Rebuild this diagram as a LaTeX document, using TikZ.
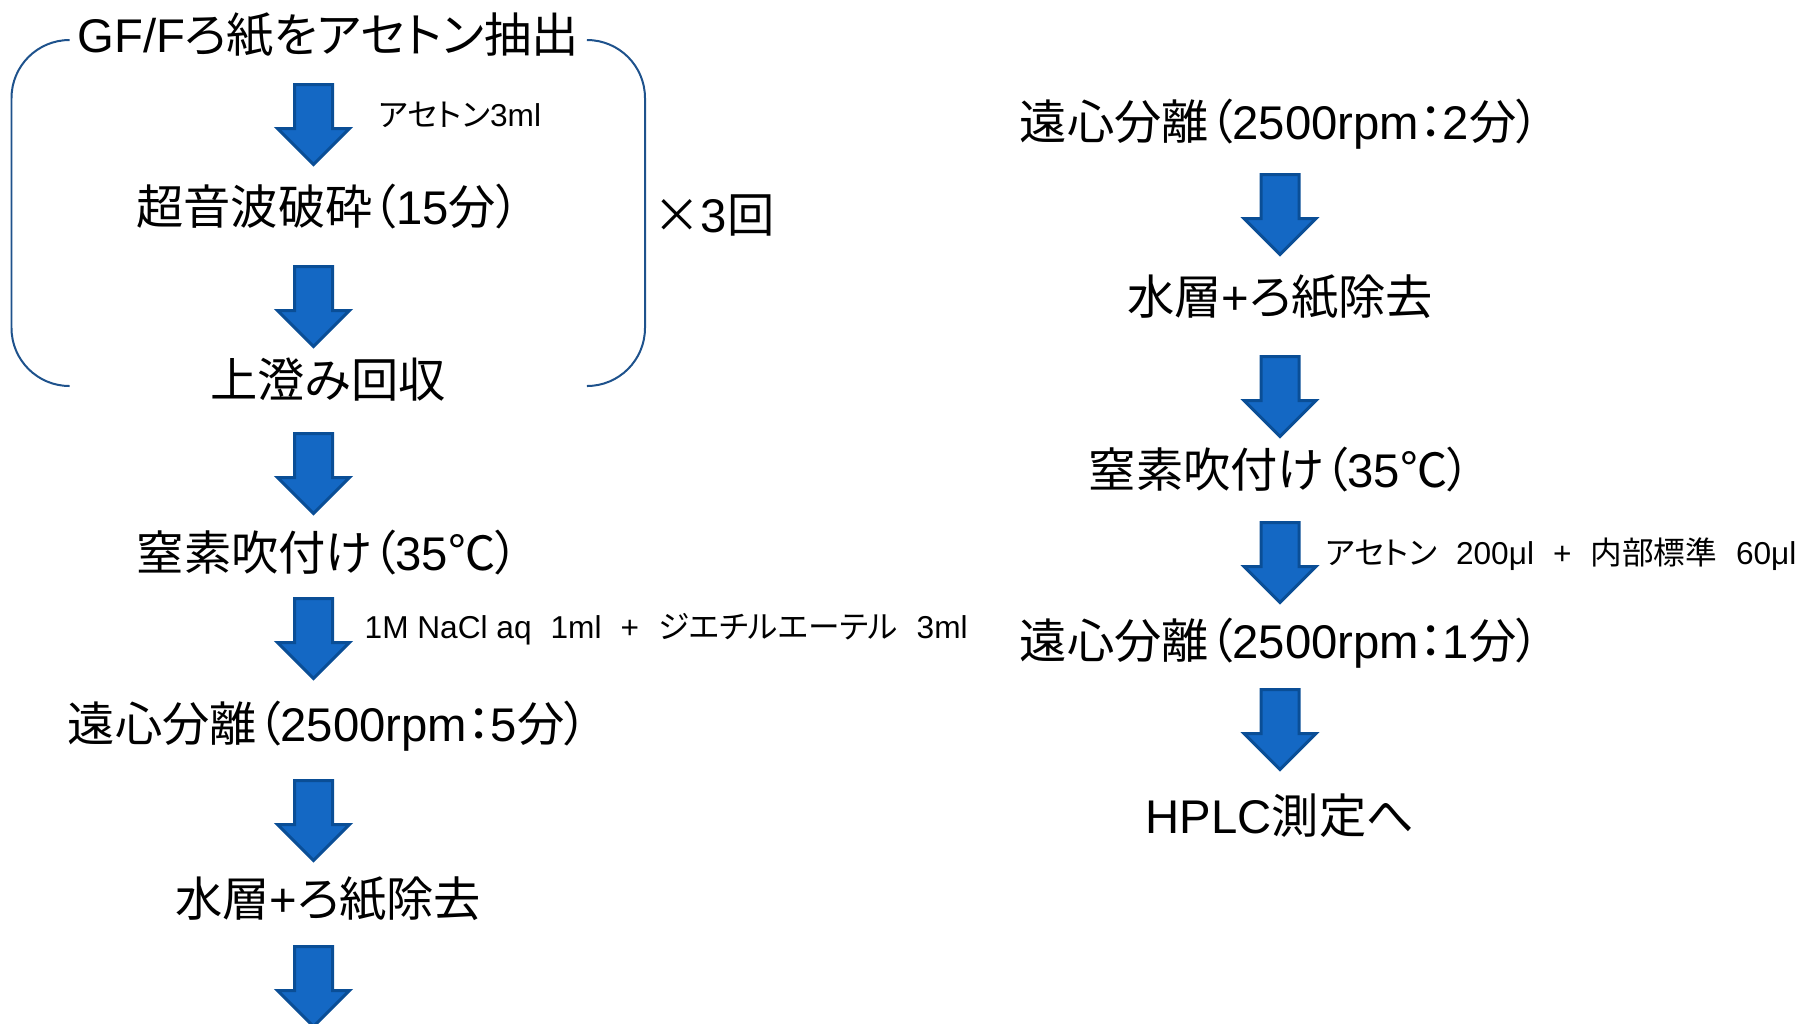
\documentclass[tikz,border=0pt]{standalone}
\usepackage{fontspec}
\setmainfont{Noto Sans CJK JP}[RawFeature=+palt]
\newfontfamily\latfont{Liberation Sans}
\usepackage{tikz}
\usetikzlibrary{shapes.arrows}
\definecolor{arrowblue}{RGB}{20,104,196}
\definecolor{arrowedge}{RGB}{10,78,150}
\definecolor{bracketblue}{RGB}{30,82,140}
\newcommand{\lat}[1]{{\latfont #1}}
\newcommand{\labgap}{\hspace{0.6em}}
\tikzset{
	steptext/.style={font=\fontsize{13.45pt}{16pt}\selectfont, inner sep=0pt},
	notetext/.style={font=\fontsize{9pt}{11pt}\selectfont, anchor=west, inner sep=0pt},
	downarrow/.style={single arrow, rotate=-90, anchor=tail, fill=arrowblue, draw=arrowedge,
		line width=0.3mm, minimum height=8mm, inner xsep=0pt, inner ysep=1.75mm,
		single arrow head extend=1.7mm, single arrow tip angle=90},
	bracket/.style={draw=bracketblue, line width=0.2mm, rounded corners=5.8mm}
}
\begin{document}
\begin{tikzpicture}[x=0.1mm,y=-0.1mm]
	\useasboundingbox (0,0) rectangle (1807,1023);
	% left column
	\node[steptext] (t1) at (328,35) {\lat{GF/F}ろ紙をアセトン抽出};
	\node[steptext] (t2) at (328,207) {超音波破砕（\lat{15}分）};
	\node[steptext] (t3) at (328,380) {上澄み回収};
	\node[steptext] (t4) at (328,553) {窒素吹付け（\lat{35}℃）};
	\node[steptext] (t5) at (328,726) {遠心分離（\lat{2500rpm}：\lat{5}分）};
	\node[steptext] (t6) at (328,899) {水層\lat{+}ろ紙除去};
	\foreach \i/\y in {1/83,2/265,3/432,4/597,5/779,6/945}
	{
		\node[downarrow] (a\i) at (313.5,\y) {};
	}
	\node[notetext] (n1) at (378,115) {アセトン\lat{3ml}};
	\node[notetext] (n4) at (364,629) {\lat{1M NaCl aq}\labgap\lat{1ml}\labgap\lat{+}\labgap ジエチルエーテル\labgap\lat{3ml}};
	% repeat bracket
	\draw[bracket] (69,40) -- (11.5,40) -- (11.5,386) -- (69,386);
	\draw[bracket] (588,40) -- (645,40) -- (645,386) -- (588,386);
	\node[steptext] (rep) at (714,215) {×\lat{3}回};
	% right column
	\node[steptext] (r1) at (1280,124) {遠心分離（\lat{2500rpm}：\lat{2}分）};
	\node[steptext] (r2) at (1280,297) {水層\lat{+}ろ紙除去};
	\node[steptext] (r3) at (1280,470) {窒素吹付け（\lat{35}℃）};
	\node[steptext] (r4) at (1280,643) {遠心分離（\lat{2500rpm}：\lat{1}分）};
	\node[steptext] (r5) at (1280,816) {\lat{HPLC}測定へ};
	\foreach \i/\y in {1/173,2/355,3/521,4/688}
	{
		\node[downarrow] (b\i) at (1280,\y) {};
	}
	\node[notetext] (m3) at (1325,554) {アセトン\labgap\lat{200μl}\labgap\lat{+}\labgap 内部標準\labgap\lat{60μl}};
\end{tikzpicture}
\end{document}
